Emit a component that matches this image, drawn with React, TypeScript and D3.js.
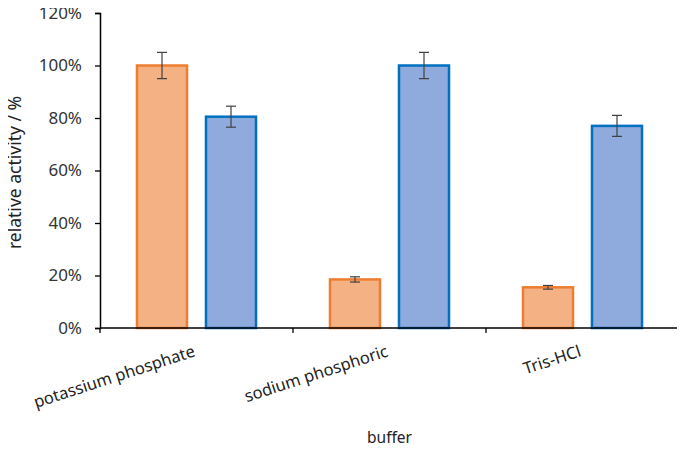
import React, { useRef, useEffect } from 'react';
import * as d3 from 'd3';

// buffers on the x axis
const categories = ['potassium phosphate', 'sodium phosphoric', 'Tris-HCl'];
const seriesNames = ['orange', 'blue'];
// relative activity (%) and error (+/-)
const orangeValues = [100, 18.5, 15.5];
const orangeErrors = [5, 1, 0.7];
const blueValues = [80.5, 100, 77];
const blueErrors = [4, 5, 4];
const yTicks = [0, 20, 40, 60, 80, 100, 120];

const fills = ['#F4B183', '#8FAADC'];
const strokes = ['#ED7D31', '#0070C0'];

const width = 685;
const height = 454;

const App = () => {
  const ref = useRef<SVGSVGElement>(null);

  useEffect(() => {
    const svg = d3.select(ref.current);
    svg.selectAll('*').remove();

    const margin = { top: 13, right: 6, bottom: 126, left: 100 };
    const innerWidth = width - margin.left - margin.right;
    const innerHeight = height - margin.top - margin.bottom;
    const font = '"Noto Sans", "Open Sans", sans-serif';

    const g = svg.append('g').attr('transform', `translate(${margin.left},${margin.top})`);

    const x0 = d3.scaleBand().domain(categories).range([0, innerWidth]).padding(0);
    const x1 = d3.scaleBand().domain(seriesNames).range([0, x0.bandwidth()])
      .paddingInner(0.275).paddingOuter(0.536);
    const y = d3.scaleLinear().domain([0, 120]).range([innerHeight, 0]);

    const series = [
      { name: 'orange', values: orangeValues, errors: orangeErrors },
      { name: 'blue', values: blueValues, errors: blueErrors },
    ];

    // bars
    series.forEach((s, si) => {
      g.selectAll(`.bar-${s.name}`)
        .data(categories)
        .enter()
        .append('rect')
        .attr('x', c => (x0(c) ?? 0) + (x1(s.name) ?? 0))
        .attr('y', (c, i) => y(s.values[i]))
        .attr('width', x1.bandwidth())
        .attr('height', (c, i) => innerHeight - y(s.values[i]))
        .attr('fill', fills[si])
        .attr('stroke', strokes[si])
        .attr('stroke-width', 2.5);
    });

    // error bars
    series.forEach(s => {
      categories.forEach((c, i) => {
        const cx = (x0(c) ?? 0) + (x1(s.name) ?? 0) + x1.bandwidth() / 2;
        const hi = y(s.values[i] + s.errors[i]);
        const lo = y(s.values[i] - s.errors[i]);
        const eb = g.append('g').attr('stroke', '#404040').attr('stroke-width', 1.2);
        eb.append('line').attr('x1', cx).attr('x2', cx).attr('y1', hi).attr('y2', lo);
        eb.append('line').attr('x1', cx - 5).attr('x2', cx + 5).attr('y1', hi).attr('y2', hi);
        eb.append('line').attr('x1', cx - 5).attr('x2', cx + 5).attr('y1', lo).attr('y2', lo);
      });
    });

    // y axis
    const yAxis = g.append('g')
      .call(d3.axisLeft(y).tickValues(yTicks).tickSize(5).tickFormat(d => `${d}%`));
    yAxis.select('.domain').attr('stroke', '#000').attr('stroke-width', 1.5);
    yAxis.selectAll('.tick line').attr('stroke', '#000').attr('stroke-width', 1.3);
    yAxis.selectAll('text')
      .attr('font-family', font)
      .attr('font-size', '17px')
      .attr('fill', '#333')
      .attr('x', -18);

    // x axis
    const bounds = [0, ...categories.map(c => (x0(c) ?? 0) + x0.bandwidth())];
    g.append('line')
      .attr('x1', 0).attr('x2', innerWidth)
      .attr('y1', innerHeight).attr('y2', innerHeight)
      .attr('stroke', '#000').attr('stroke-width', 1.5);
    g.selectAll('.xtick')
      .data(bounds)
      .enter()
      .append('line')
      .attr('x1', d => d).attr('x2', d => d)
      .attr('y1', innerHeight).attr('y2', innerHeight + 5)
      .attr('stroke', '#000').attr('stroke-width', 1.3);

    g.selectAll('.xlabel')
      .data(categories)
      .enter()
      .append('text')
      .attr('transform', c => `translate(${(x0(c) ?? 0) + x0.bandwidth() / 2 - 4},${innerHeight + 17}) rotate(-18)`)
      .attr('text-anchor', 'end')
      .attr('dy', '0.7em')
      .attr('font-family', font)
      .attr('font-size', '16.5px')
      .attr('fill', '#222')
      .text(c => c);

    // axis titles
    svg.append('text')
      .attr('x', margin.left + innerWidth / 2)
      .attr('y', 443)
      .attr('text-anchor', 'middle')
      .attr('font-family', font)
      .attr('font-size', '15.5px')
      .attr('fill', '#222')
      .text('buffer');

    svg.append('text')
      .attr('transform', `translate(21,${margin.top + innerHeight / 2 + 2}) rotate(-90)`)
      .attr('text-anchor', 'middle')
      .attr('font-family', font)
      .attr('font-size', '17.5px')
      .attr('fill', '#222')
      .text('relative activity / %');
  }, []);

  return (
    <div style={{ margin: -8 }}>
      <svg ref={ref} width={width} height={height} style={{ display: 'block', background: '#fff' }} />
    </div>
  );
};

export default App;
